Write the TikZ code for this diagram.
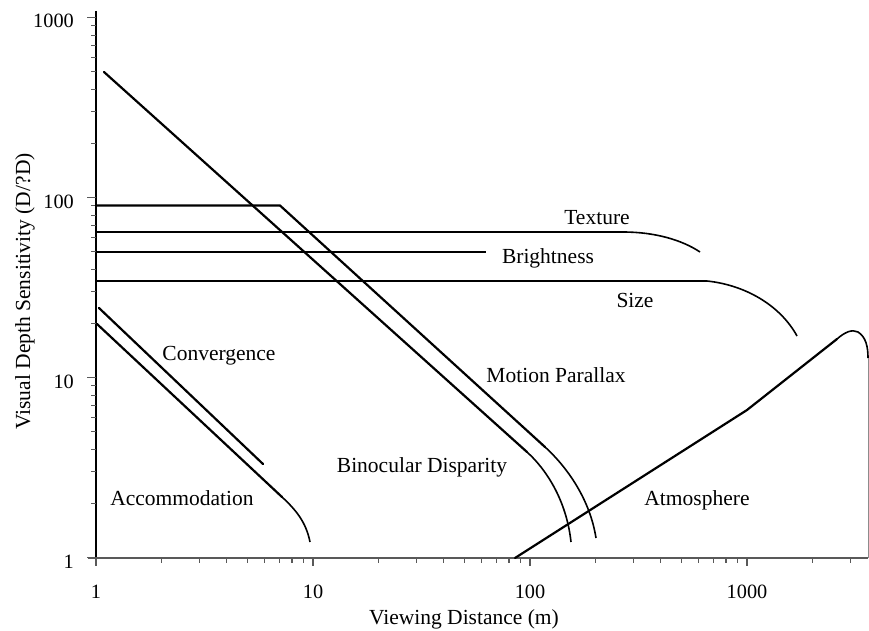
\documentclass[tikz,border=0pt]{standalone}
\usepackage{fontspec}
\setmainfont{Liberation Serif}
\begin{document}
\begin{tikzpicture}[x=1pt,y=-1pt,
  curve/.style={line width=2.2pt, line cap=round, line join=round},
  level/.style={line width=2pt},
  tail/.style={line width=1.6pt},
  yaxis/.style={line width=1.4pt},
  xaxis/.style={line width=2pt, black!65},
  tick/.style={line width=1.1pt, black!65},
  lbl/.style={font=\fontsize{21.5}{24}\selectfont, inner sep=0pt, anchor=base},
  ticklbl/.style={font=\fontsize{20.3}{23}\selectfont, inner sep=0pt, anchor=base}]
\useasboundingbox (0,0) rectangle (869,631);

% ---- axes ----
\draw[yaxis] (96,11) -- (96,558);
\draw[xaxis] (88,558) -- (868,558);

% y ticks: y(v) = 557.7 - 180 log10(v)
\foreach \d in {0,1,2,3} {
  \pgfmathsetmacro{\yy}{557.7-180*\d}
  \draw[tick] (87,\yy) -- (96,\yy);
}
\foreach \d in {0,1,2} {
  \foreach \m in {2,...,9} {
    \pgfmathsetmacro{\yy}{557.7-180*(\d+log10(\m))}
    \draw[tick] (91,\yy) -- (96,\yy);
  }
}
% x ticks: x(v) = 96 + 217 log10(v)
\foreach \d in {0,1,2,3} {
  \pgfmathsetmacro{\xx}{96+217*\d}
  \draw[tick] (\xx,558) -- (\xx,566);
}
\foreach \d in {0,1,2} {
  \foreach \m in {2,...,9} {
    \pgfmathsetmacro{\xx}{96+217*(\d+log10(\m))}
    \draw[tick] (\xx,558) -- (\xx,563);
  }
}
\foreach \m in {2,3} {
  \pgfmathsetmacro{\xx}{96+217*(3+log10(\m))}
  \draw[tick] (\xx,558) -- (\xx,563);
}

% tick labels
\node[ticklbl, anchor=base east] (y1000) at (74,28) {1000};
\node[ticklbl, anchor=base east] (y100)  at (74,208) {100};
\node[ticklbl, anchor=base east] (y10)   at (74,388) {10};
\node[ticklbl, anchor=base east] (y1)    at (74,568) {1};
\node[ticklbl] (x1)    at (96,598) {1};
\node[ticklbl] (x10)   at (313,598) {10};
\node[ticklbl] (x100)  at (530,598) {100};
\node[ticklbl] (x1000) at (747,598) {1000};

% axis titles
\node[lbl] (xtitle) at (464,624) {Viewing Distance (m)};
\node[lbl, rotate=90] (ytitle) at (30,291.5) {Visual Depth Sensitivity (D/?D)};

% ---- cue curves ----
% Binocular disparity
\draw[curve] (104,72) -- (527,452);
\draw[tail] (527,452) .. controls (550,473) and (567,505) .. (571,542);
% Motion parallax
\draw[curve] (96,205.5) -- (280,205.5) -- (545,447);
\draw[tail] (545,447) .. controls (568,468) and (590,500) .. (596,538);
% Texture
\draw[level] (96,232) -- (623,232);
\draw[tail] (623,232) .. controls (655,232) and (682,240) .. (700,252);
% Brightness
\draw[level] (96,251.5) -- (486,251.5);
% Size
\draw[level] (96,281) -- (707,281);
\draw[tail] (707,281) .. controls (745,285) and (780,305) .. (797,336);
% Convergence
\draw[curve] (99,308) -- (263,464);
% Accommodation
\draw[curve] (97,324) -- (282,497);
\draw[tail] (282,497) .. controls (296,510) and (306,522) .. (310,542);
% Atmosphere
\draw[curve] (515,558) -- (747,410) -- (837,339);
\draw[tail] (837,339) .. controls (845,332) and (852,329) .. (858,332)
  .. controls (866,337) and (868,347) .. (868,358);
\draw[line width=0.9pt, black!45] (868,358) -- (868,558);

% ---- curve labels ----
\node[lbl] (texture)  at (597,224) {Texture};
\node[lbl] (bright)   at (548,263) {Brightness};
\node[lbl] (size)     at (635,307) {Size};
\node[lbl] (conv)     at (219,360) {Convergence};
\node[lbl] (motion)   at (556,382) {Motion Parallax};
\node[lbl] (binoc)    at (422,472) {Binocular Disparity};
\node[lbl] (accom)    at (182,505) {Accommodation};
\node[lbl] (atmos)    at (697,505) {Atmosphere};
\end{tikzpicture}
\end{document}
